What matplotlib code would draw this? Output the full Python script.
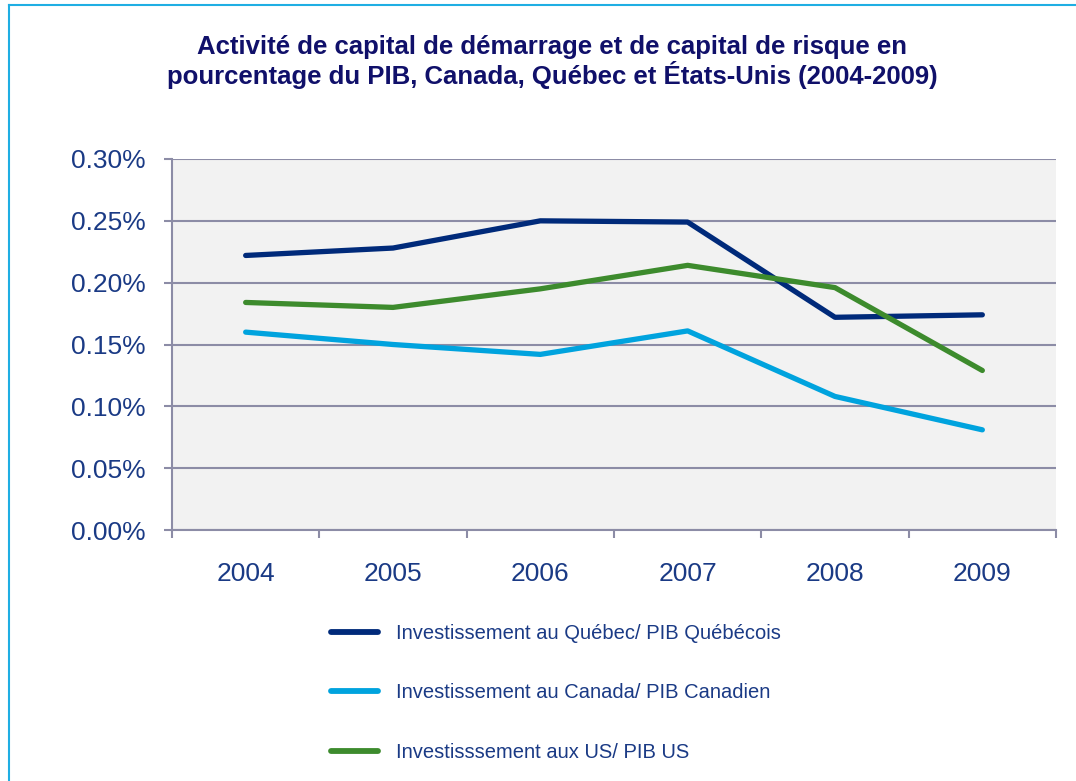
import matplotlib

matplotlib.use("Agg")
import matplotlib.pyplot as plt
from matplotlib.lines import Line2D
from matplotlib.ticker import FixedLocator, FuncFormatter

# ── Data (percent of GDP) ─────────────────────────────────────────────
years = ["2004", "2005", "2006", "2007", "2008", "2009"]
quebec = [0.222, 0.228, 0.250, 0.249, 0.172, 0.174]
canada = [0.160, 0.150, 0.142, 0.161, 0.108, 0.081]
us = [0.184, 0.180, 0.195, 0.214, 0.196, 0.129]

labels = [
    "Investissement au Québec/ PIB Québécois",
    "Investissement au Canada/ PIB Canadien",
    "Investisssement aux US/ PIB US",
]

# ── Colours ───────────────────────────────────────────────────────────
C_QC = "#002A7A"
C_CA = "#00A3DE"
C_US = "#3D8B2D"
C_GRID = "#8C8CA6"
C_TEXT = "#1A3A85"
C_TITLE = "#10106A"
C_FRAME = "#1FAEE3"

plt.rcParams["font.family"] = ["Liberation Sans", "DejaVu Sans"]

W, H = 1076, 781
fig = plt.figure(figsize=(W / 100, H / 100), dpi=100)
fig.patch.set_facecolor("white")

# outer frame (left + top)
fig.add_artist(Line2D([9 / W, 9 / W], [0, 1 - 5 / H], color=C_FRAME, lw=1.5))
fig.add_artist(Line2D([9 / W, 1], [1 - 5 / H, 1 - 5 / H], color=C_FRAME, lw=1.5))

fig.text(
    552 / W,
    1 - 62 / H,
    "Activité de capital de démarrage et de capital de risque en\n"
    "pourcentage du PIB, Canada, Québec et États-Unis (2004-2009)",
    ha="center",
    va="center",
    fontsize=18.5,
    fontweight="bold",
    color=C_TITLE,
    linespacing=1.13,
)

ax = fig.add_axes([172 / W, 1 - 530 / H, (1056 - 172) / W, (530 - 159) / H])
ax.set_facecolor("#F2F2F2")

x = list(range(len(years)))
ax.plot(x, quebec, color=C_QC, lw=3.8, solid_capstyle="round", solid_joinstyle="round", label=labels[0], zorder=3)
ax.plot(x, canada, color=C_CA, lw=3.8, solid_capstyle="round", solid_joinstyle="round", label=labels[1], zorder=3)
ax.plot(x, us, color=C_US, lw=3.8, solid_capstyle="round", solid_joinstyle="round", label=labels[2], zorder=3)

ax.set_xlim(-0.5, len(years) - 0.5)
ax.set_ylim(0, 0.30)

yt = [0, 0.05, 0.10, 0.15, 0.20, 0.25, 0.30]
ax.yaxis.set_major_locator(FixedLocator(yt))
ax.yaxis.set_major_formatter(FuncFormatter(lambda v, p: f"{v:.2f}%"))
ax.grid(axis="y", color=C_GRID, lw=1.5, zorder=1)

ax.xaxis.set_major_locator(FixedLocator([i - 0.5 for i in range(len(years) + 1)]))
ax.xaxis.set_major_formatter(FuncFormatter(lambda v, p: ""))
ax.set_xticks(x, years, minor=True)
ax.tick_params(axis="x", which="minor", length=0, pad=23, labelsize=19, labelcolor=C_TEXT)
ax.tick_params(axis="x", which="major", length=5.8, width=1.5, color=C_GRID)
ax.tick_params(axis="y", length=5.8, width=1.5, color=C_GRID, pad=13, labelsize=19, labelcolor=C_TEXT)

for s in ["top", "right"]:
    ax.spines[s].set_visible(False)
for s in ["left", "bottom"]:
    ax.spines[s].set_color(C_GRID)
    ax.spines[s].set_linewidth(1.5)

leg = ax.legend(
    loc="upper left",
    bbox_to_anchor=(331 / W, 1 - 624 / H),
    bbox_transform=fig.transFigure,
    frameon=False,
    fontsize=14.5,
    handlelength=2.35,
    handletextpad=0.9,
    labelspacing=2.0,
    borderpad=0,
    borderaxespad=0,
)
for line in leg.get_lines():
    line.set_linewidth(4.2)
for t in leg.get_texts():
    t.set_color(C_TEXT)

fig.savefig("out.png", dpi=100, facecolor="white")
